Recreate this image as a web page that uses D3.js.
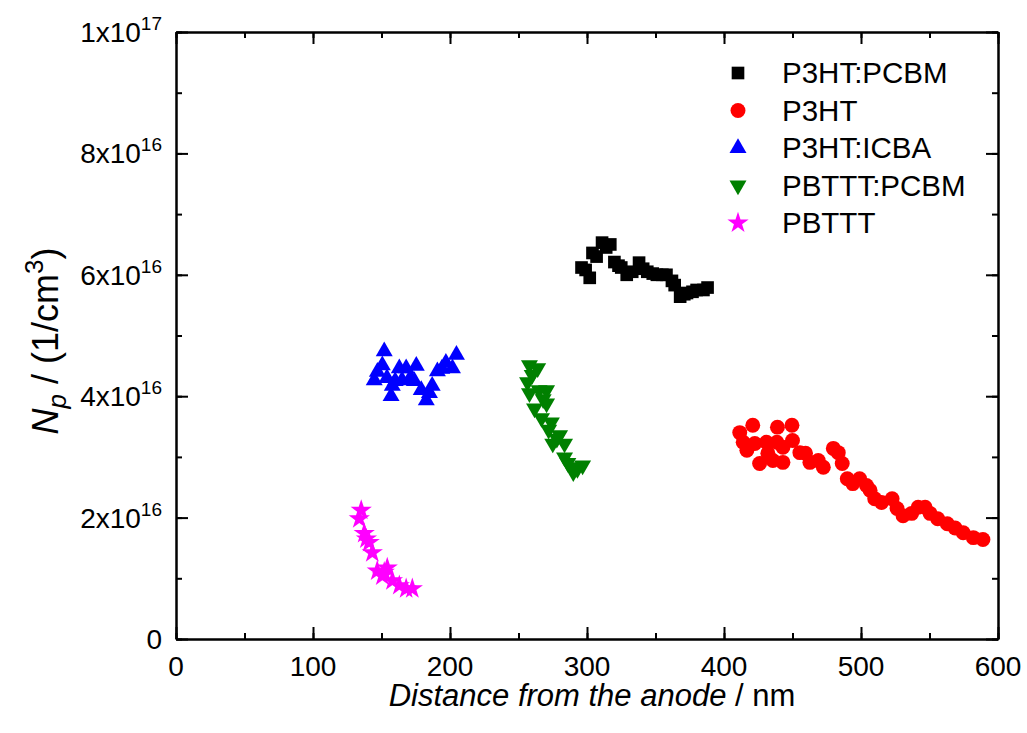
<!DOCTYPE html>
<html>
<head>
<meta charset="utf-8">
<script src="https://cdnjs.cloudflare.com/ajax/libs/d3/7.8.5/d3.min.js"></script>
<style>
  body { margin: 0; background: #fff; }
  text { font-family: "Liberation Sans", Arial, sans-serif; }
</style>
</head>
<body>
<div id="chart"></div>
<script>
// values: [distance nm, Np in 1e16 / cm^3]
var p3htPcbm = [[296,6.12],[299,6.08],[302,5.95],[304,6.36],[307,6.3],[311,6.53],[314,6.45],[317,6.5],
  [320,6.21],[323,6.15],[325,6.12],[329,6.0],[333,6.05],[338,6.2],[341,6.1],[344,6.05],[348,6.02],
  [351,6.0],[355,6.0],[358,6.0],[362,5.9],[364,5.83],[368,5.64],[371,5.68],[373,5.7],[377,5.72],
  [380,5.75],[385,5.75],[388,5.79]];
var p3ht = [[411.5,3.4],[414,3.24],[416.7,3.11],[421,3.52],[422.5,3.22],[426,2.89],[431,3.24],[432,3.06],
  [435.7,2.94],[438.6,3.24],[439,3.49],[443,2.91],[443,3.16],[449.6,3.52],[450,3.27],[455.4,3.07],
  [459.5,3.06],[462.7,2.91],[468.8,2.94],[472.5,2.83],[479.8,3.14],[483.4,3.07],[486.3,2.89],
  [490,2.64],[494,2.56],[499,2.64],[504,2.53],[506.6,2.45],[510,2.31],[515,2.25],[522.7,2.31],
  [526.3,2.15],[530.7,2.03],[537,2.07],[541.7,2.17],[546.8,2.17],[550.4,2.07],[556,1.98],
  [563,1.9],[568.7,1.83],[574.6,1.75],[582,1.67],[589,1.64]];
var p3htIcba = [[144.7,4.26],[147,4.4],[150.6,4.51],[152,4.74],[154,4.3],[157,4.0],[157.9,4.17],
  [160,4.25],[163,4.46],[165,4.26],[168,4.46],[171,4.3],[174,4.25],[175.4,4.5],[179,4.1],
  [182.7,3.93],[185,4.05],[187,4.17],[190.8,4.41],[194,4.45],[197,4.55],[201.8,4.46],[204.7,4.68]];
var pbtttPcbm = [[256.6,4.23],[258,4.51],[258,4.05],[260,4.35],[261.7,3.8],[264,4.46],[265,4.1],
  [266.8,3.64],[268,3.95],[270.5,4.1],[270.5,3.88],[272,3.45],[274,3.57],[275,3.22],[278,3.3],
  [280,3.36],[283.6,3.22],[283.6,2.99],[286,2.9],[288.7,2.83],[290,2.75],[293,2.8],[296.8,2.86]];
var pbttt = [[135.2,2.12],[133.8,1.98],[137.4,1.74],[139,1.65],[141,1.59],[143.3,1.42],[146.9,1.12],
  [150.6,1.04],[152,1.1],[154.2,1.17],[158,0.96],[163,0.88],[168,0.83],[172.5,0.83]];

var seriesNames = ["P3HT:PCBM", "P3HT", "P3HT:ICBA", "PBTTT:PCBM", "PBTTT"];
var seriesData = [p3htPcbm, p3ht, p3htIcba, pbtttPcbm, pbttt];
var seriesColors = ["#000000", "#ff0000", "#0000ff", "#008000", "#ff00ff"];

var xTicks = [0, 100, 200, 300, 400, 500, 600];
var yTicks = [0, 2, 4, 6, 8, 10];
var yTickLabels = [["0", ""], ["2x10", "16"], ["4x10", "16"], ["6x10", "16"], ["8x10", "16"], ["1x10", "17"]];

var margin = {top: 32, right: 29, bottom: 94, left: 176},
    width = 1027 - margin.left - margin.right,
    height = 733 - margin.top - margin.bottom;

var svg = d3.select("#chart")
            .append("svg")
            .attr("width", 1027)
            .attr("height", 733);
var g = svg.append("g").attr("transform", "translate(" + margin.left + "," + margin.top + ")");

var x = d3.scaleLinear().domain([0, 600]).range([0, width]);
var y = d3.scaleLinear().domain([0, 10]).range([height, 0]);

// markers
var symbols = [
  d3.symbol().type(d3.symbolSquare).size(160),
  d3.symbol().type(d3.symbolCircle).size(175),
  d3.symbol().type(d3.symbolTriangle).size(125),
  d3.symbol().type(d3.symbolTriangle).size(125),
  d3.symbol().type(d3.symbolStar).size(140)
];
var rotations = [0, 0, 0, 180, 0];

seriesData.forEach(function(data, i) {
  g.append("g").selectAll("path")
    .data(data)
    .enter().append("path")
    .attr("d", symbols[i])
    .attr("fill", seriesColors[i])
    .attr("transform", function(d) {
      return "translate(" + x(d[0]) + "," + y(d[1]) + ") rotate(" + rotations[i] + ")";
    });
});

// axes with inward ticks, mirrored on top and right
function styleAxis(sel) {
  sel.selectAll("path, line").attr("stroke", "#000").attr("stroke-width", 2);
  sel.selectAll("text").remove();
}

g.append("g").attr("transform", "translate(0," + height + ")")
  .call(d3.axisBottom(x).ticks(12).tickSize(-6).tickSizeOuter(0)).call(styleAxis);
g.append("g").attr("transform", "translate(0," + height + ")")
  .call(d3.axisBottom(x).tickValues(xTicks).tickSize(-12).tickSizeOuter(0)).call(styleAxis);
g.append("g")
  .call(d3.axisTop(x).ticks(12).tickSize(-6).tickSizeOuter(0)).call(styleAxis);
g.append("g")
  .call(d3.axisTop(x).tickValues(xTicks).tickSize(-12).tickSizeOuter(0)).call(styleAxis);
g.append("g")
  .call(d3.axisLeft(y).ticks(10).tickSize(-6).tickSizeOuter(0)).call(styleAxis);
g.append("g")
  .call(d3.axisLeft(y).tickValues(yTicks).tickSize(-12).tickSizeOuter(0)).call(styleAxis);
g.append("g").attr("transform", "translate(" + width + ",0)")
  .call(d3.axisRight(y).ticks(10).tickSize(-6).tickSizeOuter(0)).call(styleAxis);
g.append("g").attr("transform", "translate(" + width + ",0)")
  .call(d3.axisRight(y).tickValues(yTicks).tickSize(-12).tickSizeOuter(0)).call(styleAxis);

// tick labels
g.append("g").selectAll("text")
  .data(xTicks)
  .enter().append("text")
  .attr("x", function(d) { return x(d); })
  .attr("y", height + 37)
  .attr("text-anchor", "middle")
  .attr("font-size", 28)
  .text(function(d) { return d; });

var yl = g.append("g").selectAll("text")
  .data(yTicks)
  .enter().append("text")
  .attr("x", -14)
  .attr("y", function(d) { return y(d) + 10; })
  .attr("text-anchor", "end")
  .attr("font-size", 28);
yl.append("tspan").text(function(d, i) { return yTickLabels[i][0]; });
yl.append("tspan")
  .attr("dy", -12)
  .attr("font-size", 19)
  .text(function(d, i) { return yTickLabels[i][1]; });

// axis titles
var xt = svg.append("text")
  .attr("x", 592)
  .attr("y", 706)
  .attr("text-anchor", "middle")
  .attr("font-size", 31);
xt.append("tspan").attr("font-style", "italic").text("Distance from the anode");
xt.append("tspan").text(" / nm");

var yt = svg.append("text")
  .attr("transform", "translate(58,341) rotate(-90)")
  .attr("text-anchor", "middle")
  .attr("font-size", 36);
yt.append("tspan").attr("font-style", "italic").text("N");
yt.append("tspan").attr("font-style", "italic").attr("font-size", 26).attr("dy", 8).text("p");
yt.append("tspan").attr("dy", -8).text(" / (1/cm");
yt.append("tspan").attr("font-size", 26).attr("dy", -15).text("3");
yt.append("tspan").attr("dy", 15).text(")");

// legend
var legend = svg.append("g").selectAll("g")
  .data(seriesNames)
  .enter().append("g")
  .attr("transform", function(d, i) { return "translate(738," + (73 + i * 37.5) + ")"; });
legend.append("path")
  .attr("d", function(d, i) { return symbols[i](); })
  .attr("fill", function(d, i) { return seriesColors[i]; })
  .attr("transform", function(d, i) { return "rotate(" + rotations[i] + ")"; });
legend.append("text")
  .attr("x", 44)
  .attr("y", 10)
  .attr("font-size", 29.5)
  .text(function(d) { return d; });
</script>
</body>
</html>
